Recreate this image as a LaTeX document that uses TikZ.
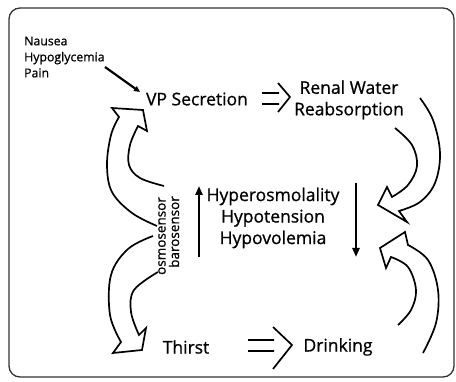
\documentclass[tikz,border=0pt]{standalone}
\usepackage{fontspec}
\setmainfont{Open Sans}
\newfontfamily\heavier{Open Sans}[FakeBold=0.8]
\usetikzlibrary{arrows.meta}

\begin{document}
\begin{tikzpicture}[x=1pt,y=-1pt,
  txt/.style={inner sep=0pt,font=\heavier\fontsize{17.5}{21.5}\selectfont,align=center},
  small/.style={inner sep=0pt,font=\heavier\fontsize{12.3}{16}\selectfont,align=left},
  sensor/.style={inner sep=0pt,font=\heavier\fontsize{13.5}{16}\selectfont,rotate=90},
  hollow/.style={line width=1.7pt,line join=miter},
  flow/.style={line width=2.8pt,-{Triangle[length=9pt,width=7pt]}}]
  % pixel units, y grows downwards
  \useasboundingbox (0,0) rectangle (456,382);
  \draw[line width=1.3pt,rounded corners=11pt,black!80] (9,8) rectangle (454,377);

  \node[small,anchor=west] (causes) at (24,57) {Nausea\\Hypoglycemia\\Pain};
  \node[txt] (vp) at (197,99) {VP Secretion};
  \node[txt] (renal) at (349,100) {Renal Water\\Reabsorption};
  \node[txt] (hyper) at (273,218) {Hyperosmolality\\Hypotension\\Hypovolemia};
  \node[txt] (thirst) at (186,347) {Thirst};
  \node[txt] (drink) at (338,347) {Drinking};
  \node[sensor] (osmo) at (162,236) {osmosensor};
  \node[sensor] (baro) at (174,232) {barosensor};

  \coordinate (c0) at (105,67);
  \coordinate (c1) at (140,92);
  \coordinate (up0) at (199,257);
  \coordinate (up1) at (199,186);
  \coordinate (dn0) at (356,183);
  \coordinate (dn1) at (356,257);
  \draw[line width=2.2pt,-{Triangle[length=6pt,width=5.5pt]}] (c0) -- (c1);
  \draw[flow] (up0) -- (up1);
  \draw[flow] (dn0) -- (dn1);

  % open double arrows
  \draw[hollow] (262,93) -- (279,93) (262,104) -- (279,104)
    (278,83) -- (290,97) -- (278,112);
  \draw[hollow] (248,340) -- (274,340) (248,351) -- (274,351)
    (273,327) -- (292,345) -- (273,369);

  % curved outline arrows
  \draw[hollow] plot[smooth,tension=0.6] coordinates {(157,226) (132,213) (112,192) (107,165) (111,135) (119,117)}
    -- (112,108) -- (143,110) -- (147,131) -- (138,126)
    -- plot[smooth,tension=0.6] coordinates {(138,126) (130,145) (129,165) (140,178) (164,186)};
  \draw[hollow] plot[smooth,tension=0.6] coordinates {(153,236) (128,249) (111,275) (110,315) (121,342)}
    -- (113,353) -- (142,350) -- (146,328) -- (139,335)
    -- plot[smooth,tension=0.6] coordinates {(139,335) (131,312) (134,290) (158,272)};
  \draw[hollow] plot[smooth,tension=0.6] coordinates {(420,98) (433,120) (440,153) (435,183) (420,202) (399,211)}
    -- (407,222) -- (378,205) -- (387,187) -- (392,197)
    -- plot[smooth,tension=0.6] coordinates {(392,197) (408,185) (417,166) (412,145) (395,128)};
  \draw[hollow] plot[smooth,tension=0.6] coordinates {(423,353) (436,323) (438,290) (428,260) (408,245)}
    -- (405,232) -- (380,248) -- (386,268) -- (391,257)
    -- plot[smooth,tension=0.6] coordinates {(391,257) (408,267) (416,290) (411,310) (398,325)};
\end{tikzpicture}
\end{document}
